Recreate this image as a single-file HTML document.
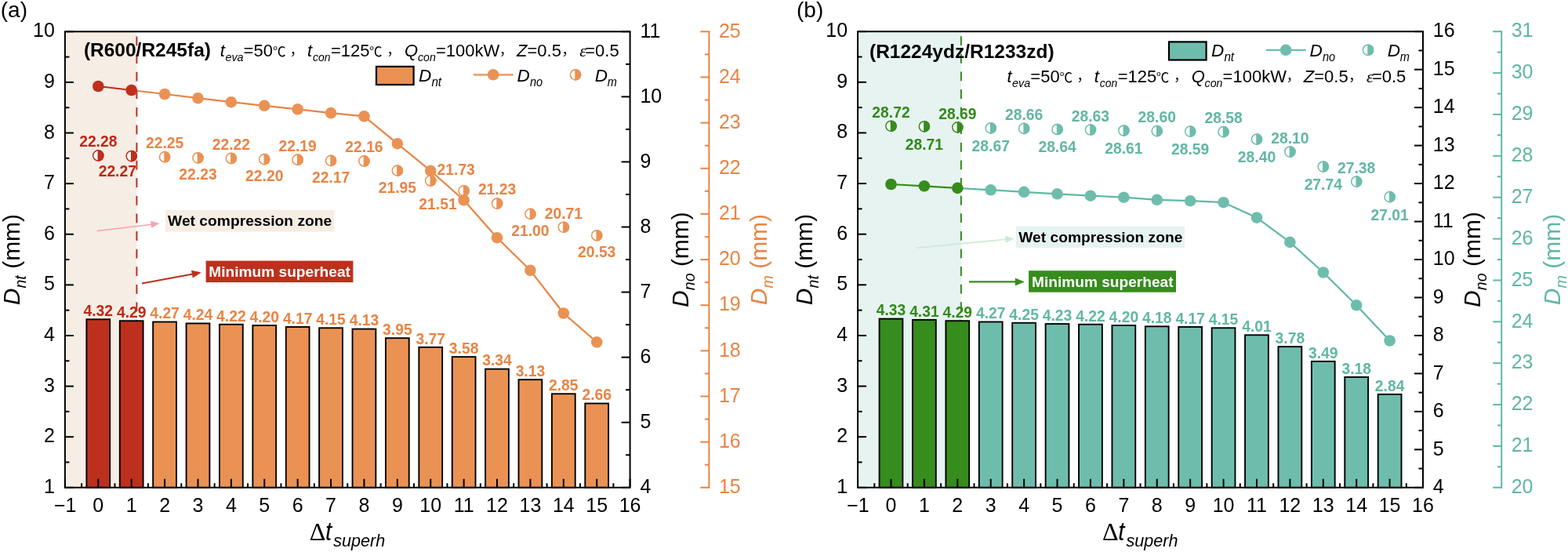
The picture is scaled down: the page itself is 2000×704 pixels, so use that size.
<!DOCTYPE html><html><head><meta charset="utf-8"><style>html,body{margin:0;padding:0;background:#fff;}svg{display:block;}</style></head><body>
<svg width="2000" height="704" viewBox="0 0 2000 704" font-family='"Liberation Sans", "Noto Sans CJK SC", sans-serif'>
<rect width="2000" height="704" fill="#fff"/>
<rect x="82.9" y="40.3" width="91.5" height="581.5" fill="#F6EDE4"/>
<line x1="174.4" y1="46.5" x2="174.4" y2="621.8" stroke="#BD301D" stroke-width="2" stroke-dasharray="11.8 10.8"/>
<rect x="110.39" y="407.29" width="29.8" height="214.51" fill="#BD301D" stroke="#000" stroke-width="1.9"/>
<rect x="152.79" y="409.23" width="29.8" height="212.57" fill="#BD301D" stroke="#000" stroke-width="1.9"/>
<rect x="195.18" y="410.52" width="29.8" height="211.28" fill="#EA9254" stroke="#000" stroke-width="1.9"/>
<rect x="237.58" y="412.46" width="29.8" height="209.34" fill="#EA9254" stroke="#000" stroke-width="1.9"/>
<rect x="279.97" y="413.75" width="29.8" height="208.05" fill="#EA9254" stroke="#000" stroke-width="1.9"/>
<rect x="322.36" y="415.04" width="29.8" height="206.76" fill="#EA9254" stroke="#000" stroke-width="1.9"/>
<rect x="364.76" y="416.98" width="29.8" height="204.82" fill="#EA9254" stroke="#000" stroke-width="1.9"/>
<rect x="407.15" y="418.27" width="29.8" height="203.52" fill="#EA9254" stroke="#000" stroke-width="1.9"/>
<rect x="449.55" y="419.57" width="29.8" height="202.23" fill="#EA9254" stroke="#000" stroke-width="1.9"/>
<rect x="491.94" y="431.2" width="29.8" height="190.6" fill="#EA9254" stroke="#000" stroke-width="1.9"/>
<rect x="534.34" y="442.83" width="29.8" height="178.97" fill="#EA9254" stroke="#000" stroke-width="1.9"/>
<rect x="576.73" y="455.1" width="29.8" height="166.7" fill="#EA9254" stroke="#000" stroke-width="1.9"/>
<rect x="619.12" y="470.61" width="29.8" height="151.19" fill="#EA9254" stroke="#000" stroke-width="1.9"/>
<rect x="661.52" y="484.18" width="29.8" height="137.62" fill="#EA9254" stroke="#000" stroke-width="1.9"/>
<rect x="703.91" y="502.27" width="29.8" height="119.53" fill="#EA9254" stroke="#000" stroke-width="1.9"/>
<rect x="746.31" y="514.55" width="29.8" height="107.25" fill="#EA9254" stroke="#000" stroke-width="1.9"/>
<text transform="translate(125.29 403.09) scale(0.99 1)" font-size="19.5" fill="#BE2816" text-anchor="middle" font-weight="bold">4.32</text>
<text transform="translate(167.69 405.03) scale(0.99 1)" font-size="19.5" fill="#BE2816" text-anchor="middle" font-weight="bold">4.29</text>
<text transform="translate(210.08 406.32) scale(0.99 1)" font-size="19.5" fill="#E98444" text-anchor="middle" font-weight="bold">4.27</text>
<text transform="translate(252.48 408.26) scale(0.99 1)" font-size="19.5" fill="#E98444" text-anchor="middle" font-weight="bold">4.24</text>
<text transform="translate(294.87 409.55) scale(0.99 1)" font-size="19.5" fill="#E98444" text-anchor="middle" font-weight="bold">4.22</text>
<text transform="translate(337.26 410.84) scale(0.99 1)" font-size="19.5" fill="#E98444" text-anchor="middle" font-weight="bold">4.20</text>
<text transform="translate(379.66 412.78) scale(0.99 1)" font-size="19.5" fill="#E98444" text-anchor="middle" font-weight="bold">4.17</text>
<text transform="translate(422.05 414.07) scale(0.99 1)" font-size="19.5" fill="#E98444" text-anchor="middle" font-weight="bold">4.15</text>
<text transform="translate(464.45 415.37) scale(0.99 1)" font-size="19.5" fill="#E98444" text-anchor="middle" font-weight="bold">4.13</text>
<text transform="translate(506.84 427) scale(0.99 1)" font-size="19.5" fill="#E98444" text-anchor="middle" font-weight="bold">3.95</text>
<text transform="translate(549.24 438.63) scale(0.99 1)" font-size="19.5" fill="#E98444" text-anchor="middle" font-weight="bold">3.77</text>
<text transform="translate(591.63 450.9) scale(0.99 1)" font-size="19.5" fill="#E98444" text-anchor="middle" font-weight="bold">3.58</text>
<text transform="translate(634.02 466.41) scale(0.99 1)" font-size="19.5" fill="#E98444" text-anchor="middle" font-weight="bold">3.34</text>
<text transform="translate(676.42 479.98) scale(0.99 1)" font-size="19.5" fill="#E98444" text-anchor="middle" font-weight="bold">3.13</text>
<text transform="translate(718.81 498.07) scale(0.99 1)" font-size="19.5" fill="#E98444" text-anchor="middle" font-weight="bold">2.85</text>
<text transform="translate(761.21 510.35) scale(0.99 1)" font-size="19.5" fill="#E98444" text-anchor="middle" font-weight="bold">2.66</text>
<rect x="211.2" y="267.9" width="215.2" height="27.6" fill="#F6EDE4"/>
<text x="214.1" y="288.4" font-size="18.8" fill="#000" font-weight="bold" textLength="209.2" lengthAdjust="spacingAndGlyphs">Wet compression zone</text>
<rect x="262.6" y="332.6" width="187.8" height="27.5" fill="#BD301D"/>
<text x="266.3" y="352.8" font-size="18.8" fill="#fff" font-weight="bold" textLength="180.6" lengthAdjust="spacingAndGlyphs">Minimum superheat</text>
<line x1="123.7" y1="294.5" x2="193.67" y2="286.18" stroke="#F2A5AE" stroke-width="1.6"/>
<path d="M203.6 285 L193.21 290.77 L192.15 281.83 Z" fill="#F2A5AE"/>
<line x1="180.9" y1="361.5" x2="245.88" y2="349.5" stroke="#BD301D" stroke-width="2.2"/>
<path d="M256.7 347.5 L245.81 354.6 L243.99 344.76 Z" fill="#BD301D"/>
<circle cx="125.29" cy="198.47" r="6.6" fill="#fff" stroke="#BD301D" stroke-width="1.5"/>
<path d="M125.29 191.87 A6.6 6.6 0 0 1 125.29 205.07 Z" fill="#BD301D" stroke="#BD301D" stroke-width="1.5"/>
<circle cx="167.69" cy="199.05" r="6.6" fill="#fff" stroke="#BD301D" stroke-width="1.5"/>
<path d="M167.69 192.45 A6.6 6.6 0 0 1 167.69 205.65 Z" fill="#BD301D" stroke="#BD301D" stroke-width="1.5"/>
<circle cx="210.08" cy="200.21" r="6.6" fill="#fff" stroke="#EA9254" stroke-width="1.5"/>
<path d="M210.08 193.61 A6.6 6.6 0 0 1 210.08 206.81 Z" fill="#EA9254" stroke="#EA9254" stroke-width="1.5"/>
<circle cx="252.48" cy="201.38" r="6.6" fill="#fff" stroke="#EA9254" stroke-width="1.5"/>
<path d="M252.48 194.78 A6.6 6.6 0 0 1 252.48 207.98 Z" fill="#EA9254" stroke="#EA9254" stroke-width="1.5"/>
<circle cx="294.87" cy="201.96" r="6.6" fill="#fff" stroke="#EA9254" stroke-width="1.5"/>
<path d="M294.87 195.36 A6.6 6.6 0 0 1 294.87 208.56 Z" fill="#EA9254" stroke="#EA9254" stroke-width="1.5"/>
<circle cx="337.26" cy="203.12" r="6.6" fill="#fff" stroke="#EA9254" stroke-width="1.5"/>
<path d="M337.26 196.52 A6.6 6.6 0 0 1 337.26 209.72 Z" fill="#EA9254" stroke="#EA9254" stroke-width="1.5"/>
<circle cx="379.66" cy="203.7" r="6.6" fill="#fff" stroke="#EA9254" stroke-width="1.5"/>
<path d="M379.66 197.1 A6.6 6.6 0 0 1 379.66 210.3 Z" fill="#EA9254" stroke="#EA9254" stroke-width="1.5"/>
<circle cx="422.05" cy="204.86" r="6.6" fill="#fff" stroke="#EA9254" stroke-width="1.5"/>
<path d="M422.05 198.26 A6.6 6.6 0 0 1 422.05 211.46 Z" fill="#EA9254" stroke="#EA9254" stroke-width="1.5"/>
<circle cx="464.45" cy="205.45" r="6.6" fill="#fff" stroke="#EA9254" stroke-width="1.5"/>
<path d="M464.45 198.85 A6.6 6.6 0 0 1 464.45 212.05 Z" fill="#EA9254" stroke="#EA9254" stroke-width="1.5"/>
<circle cx="506.84" cy="217.66" r="6.6" fill="#fff" stroke="#EA9254" stroke-width="1.5"/>
<path d="M506.84 211.06 A6.6 6.6 0 0 1 506.84 224.26 Z" fill="#EA9254" stroke="#EA9254" stroke-width="1.5"/>
<circle cx="549.24" cy="230.45" r="6.6" fill="#fff" stroke="#EA9254" stroke-width="1.5"/>
<path d="M549.24 223.85 A6.6 6.6 0 0 1 549.24 237.05 Z" fill="#EA9254" stroke="#EA9254" stroke-width="1.5"/>
<circle cx="591.63" cy="243.24" r="6.6" fill="#fff" stroke="#EA9254" stroke-width="1.5"/>
<path d="M591.63 236.64 A6.6 6.6 0 0 1 591.63 249.84 Z" fill="#EA9254" stroke="#EA9254" stroke-width="1.5"/>
<circle cx="634.02" cy="259.53" r="6.6" fill="#fff" stroke="#EA9254" stroke-width="1.5"/>
<path d="M634.02 252.93 A6.6 6.6 0 0 1 634.02 266.13 Z" fill="#EA9254" stroke="#EA9254" stroke-width="1.5"/>
<circle cx="676.42" cy="272.9" r="6.6" fill="#fff" stroke="#EA9254" stroke-width="1.5"/>
<path d="M676.42 266.3 A6.6 6.6 0 0 1 676.42 279.5 Z" fill="#EA9254" stroke="#EA9254" stroke-width="1.5"/>
<circle cx="718.81" cy="289.76" r="6.6" fill="#fff" stroke="#EA9254" stroke-width="1.5"/>
<path d="M718.81 283.16 A6.6 6.6 0 0 1 718.81 296.36 Z" fill="#EA9254" stroke="#EA9254" stroke-width="1.5"/>
<circle cx="761.21" cy="300.23" r="6.6" fill="#fff" stroke="#EA9254" stroke-width="1.5"/>
<path d="M761.21 293.63 A6.6 6.6 0 0 1 761.21 306.83 Z" fill="#EA9254" stroke="#EA9254" stroke-width="1.5"/>
<line x1="125.29" y1="110" x2="167.69" y2="115" stroke="#BD301D" stroke-width="2.2"/>
<line x1="167.69" y1="115" x2="210.08" y2="120" stroke="#E98444" stroke-width="2.2"/>
<line x1="210.08" y1="120" x2="252.48" y2="125.2" stroke="#E98444" stroke-width="2.2"/>
<line x1="252.48" y1="125.2" x2="294.87" y2="130.2" stroke="#E98444" stroke-width="2.2"/>
<line x1="294.87" y1="130.2" x2="337.26" y2="134.8" stroke="#E98444" stroke-width="2.2"/>
<line x1="337.26" y1="134.8" x2="379.66" y2="139.3" stroke="#E98444" stroke-width="2.2"/>
<line x1="379.66" y1="139.3" x2="422.05" y2="144.1" stroke="#E98444" stroke-width="2.2"/>
<line x1="422.05" y1="144.1" x2="464.45" y2="148.4" stroke="#E98444" stroke-width="2.2"/>
<line x1="464.45" y1="148.4" x2="506.84" y2="183.2" stroke="#E98444" stroke-width="2.2"/>
<line x1="506.84" y1="183.2" x2="549.24" y2="217.8" stroke="#E98444" stroke-width="2.2"/>
<line x1="549.24" y1="217.8" x2="591.63" y2="255.3" stroke="#E98444" stroke-width="2.2"/>
<line x1="591.63" y1="255.3" x2="634.02" y2="303.2" stroke="#E98444" stroke-width="2.2"/>
<line x1="634.02" y1="303.2" x2="676.42" y2="344.8" stroke="#E98444" stroke-width="2.2"/>
<line x1="676.42" y1="344.8" x2="718.81" y2="399.5" stroke="#E98444" stroke-width="2.2"/>
<line x1="718.81" y1="399.5" x2="761.21" y2="436.3" stroke="#E98444" stroke-width="2.2"/>
<circle cx="125.29" cy="110" r="7.3" fill="#BD301D"/>
<circle cx="167.69" cy="115" r="7.3" fill="#BD301D"/>
<circle cx="210.08" cy="120" r="7.3" fill="#EA9254"/>
<circle cx="252.48" cy="125.2" r="7.3" fill="#EA9254"/>
<circle cx="294.87" cy="130.2" r="7.3" fill="#EA9254"/>
<circle cx="337.26" cy="134.8" r="7.3" fill="#EA9254"/>
<circle cx="379.66" cy="139.3" r="7.3" fill="#EA9254"/>
<circle cx="422.05" cy="144.1" r="7.3" fill="#EA9254"/>
<circle cx="464.45" cy="148.4" r="7.3" fill="#EA9254"/>
<circle cx="506.84" cy="183.2" r="7.3" fill="#EA9254"/>
<circle cx="549.24" cy="217.8" r="7.3" fill="#EA9254"/>
<circle cx="591.63" cy="255.3" r="7.3" fill="#EA9254"/>
<circle cx="634.02" cy="303.2" r="7.3" fill="#EA9254"/>
<circle cx="676.42" cy="344.8" r="7.3" fill="#EA9254"/>
<circle cx="718.81" cy="399.5" r="7.3" fill="#EA9254"/>
<circle cx="761.21" cy="436.3" r="7.3" fill="#EA9254"/>
<text transform="translate(125.29 187.27) scale(0.99 1)" font-size="19.5" fill="#BE2816" text-anchor="middle" font-weight="bold">22.28</text>
<text transform="translate(149.8 225.1) scale(0.99 1)" font-size="19.5" fill="#BE2816" text-anchor="middle" font-weight="bold">22.27</text>
<text transform="translate(210.08 189.01) scale(0.99 1)" font-size="19.5" fill="#E98444" text-anchor="middle" font-weight="bold">22.25</text>
<text transform="translate(252.48 229.38) scale(0.99 1)" font-size="19.5" fill="#E98444" text-anchor="middle" font-weight="bold">22.23</text>
<text transform="translate(294.87 190.76) scale(0.99 1)" font-size="19.5" fill="#E98444" text-anchor="middle" font-weight="bold">22.22</text>
<text transform="translate(337.26 231.12) scale(0.99 1)" font-size="19.5" fill="#E98444" text-anchor="middle" font-weight="bold">22.20</text>
<text transform="translate(379.66 192.5) scale(0.99 1)" font-size="19.5" fill="#E98444" text-anchor="middle" font-weight="bold">22.19</text>
<text transform="translate(422.05 232.86) scale(0.99 1)" font-size="19.5" fill="#E98444" text-anchor="middle" font-weight="bold">22.17</text>
<text transform="translate(464.45 194.25) scale(0.99 1)" font-size="19.5" fill="#E98444" text-anchor="middle" font-weight="bold">22.16</text>
<text transform="translate(506.84 245.66) scale(0.99 1)" font-size="19.5" fill="#E98444" text-anchor="middle" font-weight="bold">21.95</text>
<text transform="translate(581.7 222.6) scale(0.99 1)" font-size="19.5" fill="#E98444" text-anchor="middle" font-weight="bold">21.73</text>
<text transform="translate(558.5 266.7) scale(0.99 1)" font-size="19.5" fill="#E98444" text-anchor="middle" font-weight="bold">21.51</text>
<text transform="translate(634.02 248.33) scale(0.99 1)" font-size="19.5" fill="#E98444" text-anchor="middle" font-weight="bold">21.23</text>
<text transform="translate(676.42 300.9) scale(0.99 1)" font-size="19.5" fill="#E98444" text-anchor="middle" font-weight="bold">21.00</text>
<text transform="translate(718.81 278.56) scale(0.99 1)" font-size="19.5" fill="#E98444" text-anchor="middle" font-weight="bold">20.71</text>
<text transform="translate(761.21 328.23) scale(0.99 1)" font-size="19.5" fill="#E98444" text-anchor="middle" font-weight="bold">20.53</text>
<rect x="82.9" y="40.3" width="720.7" height="581.5" fill="none" stroke="#000" stroke-width="2"/>
<line x1="82.9" y1="621.8" x2="82.9" y2="610.8" stroke="#000" stroke-width="2"/>
<line x1="104.1" y1="621.8" x2="104.1" y2="616.3" stroke="#000" stroke-width="2"/>
<text x="83.2" y="653.4" font-size="25" fill="#000" text-anchor="middle">&#8722;1</text>
<line x1="125.29" y1="621.8" x2="125.29" y2="610.8" stroke="#000" stroke-width="2"/>
<line x1="146.49" y1="621.8" x2="146.49" y2="616.3" stroke="#000" stroke-width="2"/>
<text x="125.29" y="653.4" font-size="25" fill="#000" text-anchor="middle">0</text>
<line x1="167.69" y1="621.8" x2="167.69" y2="610.8" stroke="#000" stroke-width="2"/>
<line x1="188.89" y1="621.8" x2="188.89" y2="616.3" stroke="#000" stroke-width="2"/>
<text x="167.69" y="653.4" font-size="25" fill="#000" text-anchor="middle">1</text>
<line x1="210.08" y1="621.8" x2="210.08" y2="610.8" stroke="#000" stroke-width="2"/>
<line x1="231.28" y1="621.8" x2="231.28" y2="616.3" stroke="#000" stroke-width="2"/>
<text x="210.08" y="653.4" font-size="25" fill="#000" text-anchor="middle">2</text>
<line x1="252.48" y1="621.8" x2="252.48" y2="610.8" stroke="#000" stroke-width="2"/>
<line x1="273.67" y1="621.8" x2="273.67" y2="616.3" stroke="#000" stroke-width="2"/>
<text x="252.48" y="653.4" font-size="25" fill="#000" text-anchor="middle">3</text>
<line x1="294.87" y1="621.8" x2="294.87" y2="610.8" stroke="#000" stroke-width="2"/>
<line x1="316.07" y1="621.8" x2="316.07" y2="616.3" stroke="#000" stroke-width="2"/>
<text x="294.87" y="653.4" font-size="25" fill="#000" text-anchor="middle">4</text>
<line x1="337.26" y1="621.8" x2="337.26" y2="610.8" stroke="#000" stroke-width="2"/>
<line x1="358.46" y1="621.8" x2="358.46" y2="616.3" stroke="#000" stroke-width="2"/>
<text x="337.26" y="653.4" font-size="25" fill="#000" text-anchor="middle">5</text>
<line x1="379.66" y1="621.8" x2="379.66" y2="610.8" stroke="#000" stroke-width="2"/>
<line x1="400.86" y1="621.8" x2="400.86" y2="616.3" stroke="#000" stroke-width="2"/>
<text x="379.66" y="653.4" font-size="25" fill="#000" text-anchor="middle">6</text>
<line x1="422.05" y1="621.8" x2="422.05" y2="610.8" stroke="#000" stroke-width="2"/>
<line x1="443.25" y1="621.8" x2="443.25" y2="616.3" stroke="#000" stroke-width="2"/>
<text x="422.05" y="653.4" font-size="25" fill="#000" text-anchor="middle">7</text>
<line x1="464.45" y1="621.8" x2="464.45" y2="610.8" stroke="#000" stroke-width="2"/>
<line x1="485.64" y1="621.8" x2="485.64" y2="616.3" stroke="#000" stroke-width="2"/>
<text x="464.45" y="653.4" font-size="25" fill="#000" text-anchor="middle">8</text>
<line x1="506.84" y1="621.8" x2="506.84" y2="610.8" stroke="#000" stroke-width="2"/>
<line x1="528.04" y1="621.8" x2="528.04" y2="616.3" stroke="#000" stroke-width="2"/>
<text x="506.84" y="653.4" font-size="25" fill="#000" text-anchor="middle">9</text>
<line x1="549.24" y1="621.8" x2="549.24" y2="610.8" stroke="#000" stroke-width="2"/>
<line x1="570.43" y1="621.8" x2="570.43" y2="616.3" stroke="#000" stroke-width="2"/>
<text x="549.24" y="653.4" font-size="25" fill="#000" text-anchor="middle">10</text>
<line x1="591.63" y1="621.8" x2="591.63" y2="610.8" stroke="#000" stroke-width="2"/>
<line x1="612.83" y1="621.8" x2="612.83" y2="616.3" stroke="#000" stroke-width="2"/>
<text x="591.63" y="653.4" font-size="25" fill="#000" text-anchor="middle">11</text>
<line x1="634.02" y1="621.8" x2="634.02" y2="610.8" stroke="#000" stroke-width="2"/>
<line x1="655.22" y1="621.8" x2="655.22" y2="616.3" stroke="#000" stroke-width="2"/>
<text x="634.02" y="653.4" font-size="25" fill="#000" text-anchor="middle">12</text>
<line x1="676.42" y1="621.8" x2="676.42" y2="610.8" stroke="#000" stroke-width="2"/>
<line x1="697.61" y1="621.8" x2="697.61" y2="616.3" stroke="#000" stroke-width="2"/>
<text x="676.42" y="653.4" font-size="25" fill="#000" text-anchor="middle">13</text>
<line x1="718.81" y1="621.8" x2="718.81" y2="610.8" stroke="#000" stroke-width="2"/>
<line x1="740.01" y1="621.8" x2="740.01" y2="616.3" stroke="#000" stroke-width="2"/>
<text x="718.81" y="653.4" font-size="25" fill="#000" text-anchor="middle">14</text>
<line x1="761.21" y1="621.8" x2="761.21" y2="610.8" stroke="#000" stroke-width="2"/>
<line x1="782.4" y1="621.8" x2="782.4" y2="616.3" stroke="#000" stroke-width="2"/>
<text x="761.21" y="653.4" font-size="25" fill="#000" text-anchor="middle">15</text>
<line x1="803.6" y1="621.8" x2="803.6" y2="610.8" stroke="#000" stroke-width="2"/>
<text x="803.6" y="653.4" font-size="25" fill="#000" text-anchor="middle">16</text>
<line x1="82.9" y1="621.8" x2="93.9" y2="621.8" stroke="#000" stroke-width="2"/>
<line x1="82.9" y1="589.49" x2="88.4" y2="589.49" stroke="#000" stroke-width="2"/>
<text x="69.9" y="628.8" font-size="25" fill="#000" text-anchor="end">1</text>
<line x1="82.9" y1="557.19" x2="93.9" y2="557.19" stroke="#000" stroke-width="2"/>
<line x1="82.9" y1="524.88" x2="88.4" y2="524.88" stroke="#000" stroke-width="2"/>
<text x="69.9" y="564.19" font-size="25" fill="#000" text-anchor="end">2</text>
<line x1="82.9" y1="492.58" x2="93.9" y2="492.58" stroke="#000" stroke-width="2"/>
<line x1="82.9" y1="460.27" x2="88.4" y2="460.27" stroke="#000" stroke-width="2"/>
<text x="69.9" y="499.58" font-size="25" fill="#000" text-anchor="end">3</text>
<line x1="82.9" y1="427.97" x2="93.9" y2="427.97" stroke="#000" stroke-width="2"/>
<line x1="82.9" y1="395.66" x2="88.4" y2="395.66" stroke="#000" stroke-width="2"/>
<text x="69.9" y="434.97" font-size="25" fill="#000" text-anchor="end">4</text>
<line x1="82.9" y1="363.36" x2="93.9" y2="363.36" stroke="#000" stroke-width="2"/>
<line x1="82.9" y1="331.05" x2="88.4" y2="331.05" stroke="#000" stroke-width="2"/>
<text x="69.9" y="370.36" font-size="25" fill="#000" text-anchor="end">5</text>
<line x1="82.9" y1="298.74" x2="93.9" y2="298.74" stroke="#000" stroke-width="2"/>
<line x1="82.9" y1="266.44" x2="88.4" y2="266.44" stroke="#000" stroke-width="2"/>
<text x="69.9" y="305.74" font-size="25" fill="#000" text-anchor="end">6</text>
<line x1="82.9" y1="234.13" x2="93.9" y2="234.13" stroke="#000" stroke-width="2"/>
<line x1="82.9" y1="201.83" x2="88.4" y2="201.83" stroke="#000" stroke-width="2"/>
<text x="69.9" y="241.13" font-size="25" fill="#000" text-anchor="end">7</text>
<line x1="82.9" y1="169.52" x2="93.9" y2="169.52" stroke="#000" stroke-width="2"/>
<line x1="82.9" y1="137.22" x2="88.4" y2="137.22" stroke="#000" stroke-width="2"/>
<text x="69.9" y="176.52" font-size="25" fill="#000" text-anchor="end">8</text>
<line x1="82.9" y1="104.91" x2="93.9" y2="104.91" stroke="#000" stroke-width="2"/>
<line x1="82.9" y1="72.61" x2="88.4" y2="72.61" stroke="#000" stroke-width="2"/>
<text x="69.9" y="111.91" font-size="25" fill="#000" text-anchor="end">9</text>
<line x1="82.9" y1="40.3" x2="93.9" y2="40.3" stroke="#000" stroke-width="2"/>
<text x="69.9" y="47.3" font-size="25" fill="#000" text-anchor="end">10</text>
<line x1="803.6" y1="621.8" x2="792.6" y2="621.8" stroke="#000" stroke-width="2"/>
<line x1="803.6" y1="580.26" x2="798.1" y2="580.26" stroke="#000" stroke-width="2"/>
<text x="816.4" y="629" font-size="25" fill="#000">4</text>
<line x1="803.6" y1="538.73" x2="792.6" y2="538.73" stroke="#000" stroke-width="2"/>
<line x1="803.6" y1="497.19" x2="798.1" y2="497.19" stroke="#000" stroke-width="2"/>
<text x="816.4" y="545.93" font-size="25" fill="#000">5</text>
<line x1="803.6" y1="455.66" x2="792.6" y2="455.66" stroke="#000" stroke-width="2"/>
<line x1="803.6" y1="414.12" x2="798.1" y2="414.12" stroke="#000" stroke-width="2"/>
<text x="816.4" y="462.86" font-size="25" fill="#000">6</text>
<line x1="803.6" y1="372.59" x2="792.6" y2="372.59" stroke="#000" stroke-width="2"/>
<line x1="803.6" y1="331.05" x2="798.1" y2="331.05" stroke="#000" stroke-width="2"/>
<text x="816.4" y="379.79" font-size="25" fill="#000">7</text>
<line x1="803.6" y1="289.51" x2="792.6" y2="289.51" stroke="#000" stroke-width="2"/>
<line x1="803.6" y1="247.98" x2="798.1" y2="247.98" stroke="#000" stroke-width="2"/>
<text x="816.4" y="296.71" font-size="25" fill="#000">8</text>
<line x1="803.6" y1="206.44" x2="792.6" y2="206.44" stroke="#000" stroke-width="2"/>
<line x1="803.6" y1="164.91" x2="798.1" y2="164.91" stroke="#000" stroke-width="2"/>
<text x="816.4" y="213.64" font-size="25" fill="#000">9</text>
<line x1="803.6" y1="123.37" x2="792.6" y2="123.37" stroke="#000" stroke-width="2"/>
<line x1="803.6" y1="81.84" x2="798.1" y2="81.84" stroke="#000" stroke-width="2"/>
<text x="816.4" y="130.57" font-size="25" fill="#000">10</text>
<line x1="803.6" y1="40.3" x2="792.6" y2="40.3" stroke="#000" stroke-width="2"/>
<text x="816.4" y="47.5" font-size="25" fill="#000">11</text>
<line x1="904.4" y1="39.3" x2="904.4" y2="622.8" stroke="#E98444" stroke-width="2"/>
<line x1="904.4" y1="621.8" x2="893.4" y2="621.8" stroke="#E98444" stroke-width="2"/>
<line x1="904.4" y1="592.72" x2="898.9" y2="592.72" stroke="#E98444" stroke-width="2"/>
<text x="916.9" y="629" font-size="25" fill="#E98444">15</text>
<line x1="904.4" y1="563.65" x2="893.4" y2="563.65" stroke="#E98444" stroke-width="2"/>
<line x1="904.4" y1="534.57" x2="898.9" y2="534.57" stroke="#E98444" stroke-width="2"/>
<text x="916.9" y="570.85" font-size="25" fill="#E98444">16</text>
<line x1="904.4" y1="505.5" x2="893.4" y2="505.5" stroke="#E98444" stroke-width="2"/>
<line x1="904.4" y1="476.42" x2="898.9" y2="476.42" stroke="#E98444" stroke-width="2"/>
<text x="916.9" y="512.7" font-size="25" fill="#E98444">17</text>
<line x1="904.4" y1="447.35" x2="893.4" y2="447.35" stroke="#E98444" stroke-width="2"/>
<line x1="904.4" y1="418.27" x2="898.9" y2="418.27" stroke="#E98444" stroke-width="2"/>
<text x="916.9" y="454.55" font-size="25" fill="#E98444">18</text>
<line x1="904.4" y1="389.2" x2="893.4" y2="389.2" stroke="#E98444" stroke-width="2"/>
<line x1="904.4" y1="360.12" x2="898.9" y2="360.12" stroke="#E98444" stroke-width="2"/>
<text x="916.9" y="396.4" font-size="25" fill="#E98444">19</text>
<line x1="904.4" y1="331.05" x2="893.4" y2="331.05" stroke="#E98444" stroke-width="2"/>
<line x1="904.4" y1="301.97" x2="898.9" y2="301.97" stroke="#E98444" stroke-width="2"/>
<text x="916.9" y="338.25" font-size="25" fill="#E98444">20</text>
<line x1="904.4" y1="272.9" x2="893.4" y2="272.9" stroke="#E98444" stroke-width="2"/>
<line x1="904.4" y1="243.82" x2="898.9" y2="243.82" stroke="#E98444" stroke-width="2"/>
<text x="916.9" y="280.1" font-size="25" fill="#E98444">21</text>
<line x1="904.4" y1="214.75" x2="893.4" y2="214.75" stroke="#E98444" stroke-width="2"/>
<line x1="904.4" y1="185.67" x2="898.9" y2="185.67" stroke="#E98444" stroke-width="2"/>
<text x="916.9" y="221.95" font-size="25" fill="#E98444">22</text>
<line x1="904.4" y1="156.6" x2="893.4" y2="156.6" stroke="#E98444" stroke-width="2"/>
<line x1="904.4" y1="127.52" x2="898.9" y2="127.52" stroke="#E98444" stroke-width="2"/>
<text x="916.9" y="163.8" font-size="25" fill="#E98444">23</text>
<line x1="904.4" y1="98.45" x2="893.4" y2="98.45" stroke="#E98444" stroke-width="2"/>
<line x1="904.4" y1="69.37" x2="898.9" y2="69.37" stroke="#E98444" stroke-width="2"/>
<text x="916.9" y="105.65" font-size="25" fill="#E98444">24</text>
<line x1="904.4" y1="40.3" x2="893.4" y2="40.3" stroke="#E98444" stroke-width="2"/>
<text x="916.9" y="47.5" font-size="25" fill="#E98444">25</text>
<text transform="translate(24.9,331.05) rotate(-90)" text-anchor="middle" font-size="30" fill="#000"><tspan font-style="italic">D</tspan><tspan font-style="italic" font-size="19.6" dy="8">nt</tspan><tspan dy="-8"> (mm)</tspan></text>
<text transform="translate(877.7,331.05) rotate(-90)" text-anchor="middle" font-size="30" fill="#000"><tspan font-style="italic">D</tspan><tspan font-style="italic" font-size="19.6" dy="8">no</tspan><tspan dy="-8"> (mm)</tspan></text>
<text transform="translate(978.3,331.05) rotate(-90)" text-anchor="middle" font-size="30" fill="#E98444"><tspan font-style="italic">D</tspan><tspan font-style="italic" font-size="19.6" dy="8">m</tspan><tspan dy="-8"> (mm)</tspan></text>
<text x="394.8" y="688.6" font-size="32" font-family="Liberation Serif">&#916;</text>
<text transform="translate(415.05 688.6) scale(0.87 1)" font-size="34" font-style="italic">t</text>
<text x="425.2" y="696.9" font-size="21.6" font-style="italic">superh</text>
<rect x="480" y="84.9" width="47.6" height="23.1" fill="#EA9254" stroke="#000" stroke-width="2.2"/>
<line x1="603.9" y1="95.3" x2="654.6" y2="95.3" stroke="#EA9254" stroke-width="2.2"/>
<circle cx="629.1" cy="95.3" r="7.3" fill="#EA9254"/>
<circle cx="734" cy="95.3" r="6.6" fill="#fff" stroke="#EA9254" stroke-width="1.5"/>
<path d="M734 88.7 A6.6 6.6 0 0 1 734 101.9 Z" fill="#EA9254" stroke="#EA9254" stroke-width="1.5"/>
<text x="534" y="103.6" font-size="22.5" font-style="italic">D</text>
<text x="550.4" y="109.8" font-size="16" font-style="italic" textLength="12.7" lengthAdjust="spacingAndGlyphs">nt</text>
<text x="659.5" y="103.6" font-size="22.5" font-style="italic">D</text>
<text x="676" y="109.8" font-size="16" font-style="italic" textLength="16.2" lengthAdjust="spacingAndGlyphs">no</text>
<text x="758.7" y="103.6" font-size="22.5" font-style="italic">D</text>
<text x="774.7" y="109.8" font-size="16" font-style="italic" textLength="12.1" lengthAdjust="spacingAndGlyphs">m</text>
<text x="106.9" y="71.8" font-size="24.5" fill="#000" font-weight="bold">(R600/R245fa)</text>
<text x="280.8" y="71.5" font-size="22" font-style="italic">t</text>
<text x="287.4" y="77.8" font-size="15.5" font-style="italic" textLength="23.2" lengthAdjust="spacingAndGlyphs">eva</text>
<text x="310.6" y="71.5" font-size="22">=50</text>
<text x="347.9" y="71.5" font-size="16.5">℃</text>
<text x="369.8" y="70.2" font-size="17">，</text>
<text x="392" y="71.5" font-size="22" font-style="italic">t</text>
<text x="399" y="77.8" font-size="15.5" font-style="italic" textLength="22.5" lengthAdjust="spacingAndGlyphs">con</text>
<text x="422" y="71.5" font-size="22">=125</text>
<text x="471" y="71.5" font-size="16.5">℃</text>
<text x="493.5" y="70.2" font-size="17">，</text>
<text x="516.1" y="71.5" font-size="22" font-style="italic">Q</text>
<text x="532.9" y="77.8" font-size="15.5" font-style="italic" textLength="22.9" lengthAdjust="spacingAndGlyphs">con</text>
<text x="555.9" y="71.5" font-size="22">=100kW</text>
<text x="637.1" y="70.2" font-size="17">，</text>
<text x="659" y="71.5" font-size="22" font-style="italic">Z</text>
<text x="672.5" y="71.5" font-size="22">=0.5</text>
<text x="716.5" y="70.2" font-size="17">，</text>
<text x="739.2" y="71.5" font-size="22" font-style="italic" font-family="Liberation Serif">&#949;</text>
<text x="746.2" y="71.5" font-size="22">=0.5</text>
<text x="0.8" y="21.8" font-size="28" fill="#000">(a)</text>
<rect x="1094.1" y="40.2" width="131.8" height="581.6" fill="#E7F3F1"/>
<line x1="1225.9" y1="46.3" x2="1225.9" y2="621.8" stroke="#368C1C" stroke-width="2" stroke-dasharray="11.8 10.8"/>
<rect x="1121.61" y="406.61" width="29.8" height="215.19" fill="#368C1C" stroke="#000" stroke-width="1.9"/>
<rect x="1164.01" y="407.9" width="29.8" height="213.9" fill="#368C1C" stroke="#000" stroke-width="1.9"/>
<rect x="1206.42" y="409.19" width="29.8" height="212.61" fill="#368C1C" stroke="#000" stroke-width="1.9"/>
<rect x="1248.82" y="410.49" width="29.8" height="211.31" fill="#6EBDAC" stroke="#000" stroke-width="1.9"/>
<rect x="1291.23" y="411.78" width="29.8" height="210.02" fill="#6EBDAC" stroke="#000" stroke-width="1.9"/>
<rect x="1333.64" y="413.07" width="29.8" height="208.73" fill="#6EBDAC" stroke="#000" stroke-width="1.9"/>
<rect x="1376.04" y="413.72" width="29.8" height="208.08" fill="#6EBDAC" stroke="#000" stroke-width="1.9"/>
<rect x="1418.45" y="415.01" width="29.8" height="206.79" fill="#6EBDAC" stroke="#000" stroke-width="1.9"/>
<rect x="1460.85" y="416.3" width="29.8" height="205.5" fill="#6EBDAC" stroke="#000" stroke-width="1.9"/>
<rect x="1503.26" y="416.95" width="29.8" height="204.85" fill="#6EBDAC" stroke="#000" stroke-width="1.9"/>
<rect x="1545.66" y="418.24" width="29.8" height="203.56" fill="#6EBDAC" stroke="#000" stroke-width="1.9"/>
<rect x="1588.07" y="427.29" width="29.8" height="194.51" fill="#6EBDAC" stroke="#000" stroke-width="1.9"/>
<rect x="1630.48" y="442.15" width="29.8" height="179.65" fill="#6EBDAC" stroke="#000" stroke-width="1.9"/>
<rect x="1672.88" y="460.89" width="29.8" height="160.91" fill="#6EBDAC" stroke="#000" stroke-width="1.9"/>
<rect x="1715.29" y="480.92" width="29.8" height="140.88" fill="#6EBDAC" stroke="#000" stroke-width="1.9"/>
<rect x="1757.69" y="502.9" width="29.8" height="118.9" fill="#6EBDAC" stroke="#000" stroke-width="1.9"/>
<text transform="translate(1136.51 402.41) scale(0.99 1)" font-size="19.5" fill="#318A19" text-anchor="middle" font-weight="bold">4.33</text>
<text transform="translate(1178.91 403.7) scale(0.99 1)" font-size="19.5" fill="#318A19" text-anchor="middle" font-weight="bold">4.31</text>
<text transform="translate(1221.32 404.99) scale(0.99 1)" font-size="19.5" fill="#318A19" text-anchor="middle" font-weight="bold">4.29</text>
<text transform="translate(1263.72 406.29) scale(0.99 1)" font-size="19.5" fill="#61B7A3" text-anchor="middle" font-weight="bold">4.27</text>
<text transform="translate(1306.13 407.58) scale(0.99 1)" font-size="19.5" fill="#61B7A3" text-anchor="middle" font-weight="bold">4.25</text>
<text transform="translate(1348.54 408.87) scale(0.99 1)" font-size="19.5" fill="#61B7A3" text-anchor="middle" font-weight="bold">4.23</text>
<text transform="translate(1390.94 409.52) scale(0.99 1)" font-size="19.5" fill="#61B7A3" text-anchor="middle" font-weight="bold">4.22</text>
<text transform="translate(1433.35 410.81) scale(0.99 1)" font-size="19.5" fill="#61B7A3" text-anchor="middle" font-weight="bold">4.20</text>
<text transform="translate(1475.75 412.1) scale(0.99 1)" font-size="19.5" fill="#61B7A3" text-anchor="middle" font-weight="bold">4.18</text>
<text transform="translate(1518.16 412.75) scale(0.99 1)" font-size="19.5" fill="#61B7A3" text-anchor="middle" font-weight="bold">4.17</text>
<text transform="translate(1560.56 414.04) scale(0.99 1)" font-size="19.5" fill="#61B7A3" text-anchor="middle" font-weight="bold">4.15</text>
<text transform="translate(1602.97 423.09) scale(0.99 1)" font-size="19.5" fill="#61B7A3" text-anchor="middle" font-weight="bold">4.01</text>
<text transform="translate(1645.38 437.95) scale(0.99 1)" font-size="19.5" fill="#61B7A3" text-anchor="middle" font-weight="bold">3.78</text>
<text transform="translate(1687.78 456.69) scale(0.99 1)" font-size="19.5" fill="#61B7A3" text-anchor="middle" font-weight="bold">3.49</text>
<text transform="translate(1730.19 476.72) scale(0.99 1)" font-size="19.5" fill="#61B7A3" text-anchor="middle" font-weight="bold">3.18</text>
<text transform="translate(1772.59 498.7) scale(0.99 1)" font-size="19.5" fill="#61B7A3" text-anchor="middle" font-weight="bold">2.84</text>
<rect x="1295.9" y="288.6" width="215.1" height="27.5" fill="#E7F3F1"/>
<text x="1299.2" y="308.9" font-size="18.8" fill="#000" font-weight="bold" textLength="209.2" lengthAdjust="spacingAndGlyphs">Wet compression zone</text>
<rect x="1312.1" y="345.2" width="187.9" height="27.5" fill="#368C1C"/>
<text x="1316" y="365.5" font-size="18.8" fill="#fff" font-weight="bold" textLength="180.6" lengthAdjust="spacingAndGlyphs">Minimum superheat</text>
<line x1="1169" y1="316.1" x2="1283.54" y2="305.24" stroke="#C8ECD6" stroke-width="1.6"/>
<path d="M1293.5 304.3 L1282.97 309.82 L1282.12 300.86 Z" fill="#C8ECD6"/>
<line x1="1236" y1="359.4" x2="1295.8" y2="359.4" stroke="#368C1C" stroke-width="2.2"/>
<path d="M1306.8 359.4 L1294.8 364.4 L1294.8 354.4 Z" fill="#368C1C"/>
<circle cx="1136.51" cy="160.75" r="6.6" fill="#fff" stroke="#368C1C" stroke-width="1.5"/>
<path d="M1136.51 154.15 A6.6 6.6 0 0 1 1136.51 167.35 Z" fill="#368C1C" stroke="#368C1C" stroke-width="1.5"/>
<circle cx="1178.91" cy="161.28" r="6.6" fill="#fff" stroke="#368C1C" stroke-width="1.5"/>
<path d="M1178.91 154.68 A6.6 6.6 0 0 1 1178.91 167.88 Z" fill="#368C1C" stroke="#368C1C" stroke-width="1.5"/>
<circle cx="1221.32" cy="162.34" r="6.6" fill="#fff" stroke="#368C1C" stroke-width="1.5"/>
<path d="M1221.32 155.74 A6.6 6.6 0 0 1 1221.32 168.94 Z" fill="#368C1C" stroke="#368C1C" stroke-width="1.5"/>
<circle cx="1263.72" cy="163.39" r="6.6" fill="#fff" stroke="#6EBDAC" stroke-width="1.5"/>
<path d="M1263.72 156.79 A6.6 6.6 0 0 1 1263.72 169.99 Z" fill="#6EBDAC" stroke="#6EBDAC" stroke-width="1.5"/>
<circle cx="1306.13" cy="163.92" r="6.6" fill="#fff" stroke="#6EBDAC" stroke-width="1.5"/>
<path d="M1306.13 157.32 A6.6 6.6 0 0 1 1306.13 170.52 Z" fill="#6EBDAC" stroke="#6EBDAC" stroke-width="1.5"/>
<circle cx="1348.54" cy="164.98" r="6.6" fill="#fff" stroke="#6EBDAC" stroke-width="1.5"/>
<path d="M1348.54 158.38 A6.6 6.6 0 0 1 1348.54 171.58 Z" fill="#6EBDAC" stroke="#6EBDAC" stroke-width="1.5"/>
<circle cx="1390.94" cy="165.51" r="6.6" fill="#fff" stroke="#6EBDAC" stroke-width="1.5"/>
<path d="M1390.94 158.91 A6.6 6.6 0 0 1 1390.94 172.11 Z" fill="#6EBDAC" stroke="#6EBDAC" stroke-width="1.5"/>
<circle cx="1433.35" cy="166.57" r="6.6" fill="#fff" stroke="#6EBDAC" stroke-width="1.5"/>
<path d="M1433.35 159.97 A6.6 6.6 0 0 1 1433.35 173.17 Z" fill="#6EBDAC" stroke="#6EBDAC" stroke-width="1.5"/>
<circle cx="1475.75" cy="167.09" r="6.6" fill="#fff" stroke="#6EBDAC" stroke-width="1.5"/>
<path d="M1475.75 160.49 A6.6 6.6 0 0 1 1475.75 173.69 Z" fill="#6EBDAC" stroke="#6EBDAC" stroke-width="1.5"/>
<circle cx="1518.16" cy="167.62" r="6.6" fill="#fff" stroke="#6EBDAC" stroke-width="1.5"/>
<path d="M1518.16 161.02 A6.6 6.6 0 0 1 1518.16 174.22 Z" fill="#6EBDAC" stroke="#6EBDAC" stroke-width="1.5"/>
<circle cx="1560.56" cy="168.15" r="6.6" fill="#fff" stroke="#6EBDAC" stroke-width="1.5"/>
<path d="M1560.56 161.55 A6.6 6.6 0 0 1 1560.56 174.75 Z" fill="#6EBDAC" stroke="#6EBDAC" stroke-width="1.5"/>
<circle cx="1602.97" cy="177.67" r="6.6" fill="#fff" stroke="#6EBDAC" stroke-width="1.5"/>
<path d="M1602.97 171.07 A6.6 6.6 0 0 1 1602.97 184.27 Z" fill="#6EBDAC" stroke="#6EBDAC" stroke-width="1.5"/>
<circle cx="1645.38" cy="193.53" r="6.6" fill="#fff" stroke="#6EBDAC" stroke-width="1.5"/>
<path d="M1645.38 186.93 A6.6 6.6 0 0 1 1645.38 200.13 Z" fill="#6EBDAC" stroke="#6EBDAC" stroke-width="1.5"/>
<circle cx="1687.78" cy="212.57" r="6.6" fill="#fff" stroke="#6EBDAC" stroke-width="1.5"/>
<path d="M1687.78 205.97 A6.6 6.6 0 0 1 1687.78 219.17 Z" fill="#6EBDAC" stroke="#6EBDAC" stroke-width="1.5"/>
<circle cx="1730.19" cy="231.6" r="6.6" fill="#fff" stroke="#6EBDAC" stroke-width="1.5"/>
<path d="M1730.19 225 A6.6 6.6 0 0 1 1730.19 238.2 Z" fill="#6EBDAC" stroke="#6EBDAC" stroke-width="1.5"/>
<circle cx="1772.59" cy="251.16" r="6.6" fill="#fff" stroke="#6EBDAC" stroke-width="1.5"/>
<path d="M1772.59 244.56 A6.6 6.6 0 0 1 1772.59 257.76 Z" fill="#6EBDAC" stroke="#6EBDAC" stroke-width="1.5"/>
<line x1="1136.51" y1="235" x2="1178.91" y2="237.3" stroke="#368C1C" stroke-width="2.2"/>
<line x1="1178.91" y1="237.3" x2="1221.32" y2="239.9" stroke="#368C1C" stroke-width="2.2"/>
<line x1="1221.32" y1="239.9" x2="1263.72" y2="242.3" stroke="#61B7A3" stroke-width="2.2"/>
<line x1="1263.72" y1="242.3" x2="1306.13" y2="244.9" stroke="#61B7A3" stroke-width="2.2"/>
<line x1="1306.13" y1="244.9" x2="1348.54" y2="247.3" stroke="#61B7A3" stroke-width="2.2"/>
<line x1="1348.54" y1="247.3" x2="1390.94" y2="249.7" stroke="#61B7A3" stroke-width="2.2"/>
<line x1="1390.94" y1="249.7" x2="1433.35" y2="251.7" stroke="#61B7A3" stroke-width="2.2"/>
<line x1="1433.35" y1="251.7" x2="1475.75" y2="254.8" stroke="#61B7A3" stroke-width="2.2"/>
<line x1="1475.75" y1="254.8" x2="1518.16" y2="256.2" stroke="#61B7A3" stroke-width="2.2"/>
<line x1="1518.16" y1="256.2" x2="1560.56" y2="258.2" stroke="#61B7A3" stroke-width="2.2"/>
<line x1="1560.56" y1="258.2" x2="1602.97" y2="277.6" stroke="#61B7A3" stroke-width="2.2"/>
<line x1="1602.97" y1="277.6" x2="1645.38" y2="308.9" stroke="#61B7A3" stroke-width="2.2"/>
<line x1="1645.38" y1="308.9" x2="1687.78" y2="347.5" stroke="#61B7A3" stroke-width="2.2"/>
<line x1="1687.78" y1="347.5" x2="1730.19" y2="389.3" stroke="#61B7A3" stroke-width="2.2"/>
<line x1="1730.19" y1="389.3" x2="1772.59" y2="434.5" stroke="#61B7A3" stroke-width="2.2"/>
<circle cx="1136.51" cy="235" r="7.3" fill="#368C1C"/>
<circle cx="1178.91" cy="237.3" r="7.3" fill="#368C1C"/>
<circle cx="1221.32" cy="239.9" r="7.3" fill="#368C1C"/>
<circle cx="1263.72" cy="242.3" r="7.3" fill="#6EBDAC"/>
<circle cx="1306.13" cy="244.9" r="7.3" fill="#6EBDAC"/>
<circle cx="1348.54" cy="247.3" r="7.3" fill="#6EBDAC"/>
<circle cx="1390.94" cy="249.7" r="7.3" fill="#6EBDAC"/>
<circle cx="1433.35" cy="251.7" r="7.3" fill="#6EBDAC"/>
<circle cx="1475.75" cy="254.8" r="7.3" fill="#6EBDAC"/>
<circle cx="1518.16" cy="256.2" r="7.3" fill="#6EBDAC"/>
<circle cx="1560.56" cy="258.2" r="7.3" fill="#6EBDAC"/>
<circle cx="1602.97" cy="277.6" r="7.3" fill="#6EBDAC"/>
<circle cx="1645.38" cy="308.9" r="7.3" fill="#6EBDAC"/>
<circle cx="1687.78" cy="347.5" r="7.3" fill="#6EBDAC"/>
<circle cx="1730.19" cy="389.3" r="7.3" fill="#6EBDAC"/>
<circle cx="1772.59" cy="434.5" r="7.3" fill="#6EBDAC"/>
<text transform="translate(1136.51 150.05) scale(0.99 1)" font-size="19.5" fill="#318A19" text-anchor="middle" font-weight="bold">28.72</text>
<text transform="translate(1178.91 190.68) scale(0.99 1)" font-size="19.5" fill="#318A19" text-anchor="middle" font-weight="bold">28.71</text>
<text transform="translate(1221.32 151.64) scale(0.99 1)" font-size="19.5" fill="#318A19" text-anchor="middle" font-weight="bold">28.69</text>
<text transform="translate(1263.72 192.79) scale(0.99 1)" font-size="19.5" fill="#61B7A3" text-anchor="middle" font-weight="bold">28.67</text>
<text transform="translate(1306.13 153.22) scale(0.99 1)" font-size="19.5" fill="#61B7A3" text-anchor="middle" font-weight="bold">28.66</text>
<text transform="translate(1348.54 194.38) scale(0.99 1)" font-size="19.5" fill="#61B7A3" text-anchor="middle" font-weight="bold">28.64</text>
<text transform="translate(1390.94 154.81) scale(0.99 1)" font-size="19.5" fill="#61B7A3" text-anchor="middle" font-weight="bold">28.63</text>
<text transform="translate(1433.35 195.97) scale(0.99 1)" font-size="19.5" fill="#61B7A3" text-anchor="middle" font-weight="bold">28.61</text>
<text transform="translate(1475.75 156.39) scale(0.99 1)" font-size="19.5" fill="#61B7A3" text-anchor="middle" font-weight="bold">28.60</text>
<text transform="translate(1518.16 197.02) scale(0.99 1)" font-size="19.5" fill="#61B7A3" text-anchor="middle" font-weight="bold">28.59</text>
<text transform="translate(1560.56 157.45) scale(0.99 1)" font-size="19.5" fill="#61B7A3" text-anchor="middle" font-weight="bold">28.58</text>
<text transform="translate(1602.97 207.07) scale(0.99 1)" font-size="19.5" fill="#61B7A3" text-anchor="middle" font-weight="bold">28.40</text>
<text transform="translate(1645.38 182.83) scale(0.99 1)" font-size="19.5" fill="#61B7A3" text-anchor="middle" font-weight="bold">28.10</text>
<text transform="translate(1687.78 241.97) scale(0.99 1)" font-size="19.5" fill="#61B7A3" text-anchor="middle" font-weight="bold">27.74</text>
<text transform="translate(1730.19 220.9) scale(0.99 1)" font-size="19.5" fill="#61B7A3" text-anchor="middle" font-weight="bold">27.38</text>
<text transform="translate(1772.59 280.56) scale(0.99 1)" font-size="19.5" fill="#61B7A3" text-anchor="middle" font-weight="bold">27.01</text>
<rect x="1094.1" y="40.2" width="720.9" height="581.6" fill="none" stroke="#000" stroke-width="2"/>
<line x1="1094.1" y1="621.8" x2="1094.1" y2="610.8" stroke="#000" stroke-width="2"/>
<line x1="1115.3" y1="621.8" x2="1115.3" y2="616.3" stroke="#000" stroke-width="2"/>
<text x="1094.4" y="653.4" font-size="25" fill="#000" text-anchor="middle">&#8722;1</text>
<line x1="1136.51" y1="621.8" x2="1136.51" y2="610.8" stroke="#000" stroke-width="2"/>
<line x1="1157.71" y1="621.8" x2="1157.71" y2="616.3" stroke="#000" stroke-width="2"/>
<text x="1136.51" y="653.4" font-size="25" fill="#000" text-anchor="middle">0</text>
<line x1="1178.91" y1="621.8" x2="1178.91" y2="610.8" stroke="#000" stroke-width="2"/>
<line x1="1200.11" y1="621.8" x2="1200.11" y2="616.3" stroke="#000" stroke-width="2"/>
<text x="1178.91" y="653.4" font-size="25" fill="#000" text-anchor="middle">1</text>
<line x1="1221.32" y1="621.8" x2="1221.32" y2="610.8" stroke="#000" stroke-width="2"/>
<line x1="1242.52" y1="621.8" x2="1242.52" y2="616.3" stroke="#000" stroke-width="2"/>
<text x="1221.32" y="653.4" font-size="25" fill="#000" text-anchor="middle">2</text>
<line x1="1263.72" y1="621.8" x2="1263.72" y2="610.8" stroke="#000" stroke-width="2"/>
<line x1="1284.93" y1="621.8" x2="1284.93" y2="616.3" stroke="#000" stroke-width="2"/>
<text x="1263.72" y="653.4" font-size="25" fill="#000" text-anchor="middle">3</text>
<line x1="1306.13" y1="621.8" x2="1306.13" y2="610.8" stroke="#000" stroke-width="2"/>
<line x1="1327.33" y1="621.8" x2="1327.33" y2="616.3" stroke="#000" stroke-width="2"/>
<text x="1306.13" y="653.4" font-size="25" fill="#000" text-anchor="middle">4</text>
<line x1="1348.54" y1="621.8" x2="1348.54" y2="610.8" stroke="#000" stroke-width="2"/>
<line x1="1369.74" y1="621.8" x2="1369.74" y2="616.3" stroke="#000" stroke-width="2"/>
<text x="1348.54" y="653.4" font-size="25" fill="#000" text-anchor="middle">5</text>
<line x1="1390.94" y1="621.8" x2="1390.94" y2="610.8" stroke="#000" stroke-width="2"/>
<line x1="1412.14" y1="621.8" x2="1412.14" y2="616.3" stroke="#000" stroke-width="2"/>
<text x="1390.94" y="653.4" font-size="25" fill="#000" text-anchor="middle">6</text>
<line x1="1433.35" y1="621.8" x2="1433.35" y2="610.8" stroke="#000" stroke-width="2"/>
<line x1="1454.55" y1="621.8" x2="1454.55" y2="616.3" stroke="#000" stroke-width="2"/>
<text x="1433.35" y="653.4" font-size="25" fill="#000" text-anchor="middle">7</text>
<line x1="1475.75" y1="621.8" x2="1475.75" y2="610.8" stroke="#000" stroke-width="2"/>
<line x1="1496.96" y1="621.8" x2="1496.96" y2="616.3" stroke="#000" stroke-width="2"/>
<text x="1475.75" y="653.4" font-size="25" fill="#000" text-anchor="middle">8</text>
<line x1="1518.16" y1="621.8" x2="1518.16" y2="610.8" stroke="#000" stroke-width="2"/>
<line x1="1539.36" y1="621.8" x2="1539.36" y2="616.3" stroke="#000" stroke-width="2"/>
<text x="1518.16" y="653.4" font-size="25" fill="#000" text-anchor="middle">9</text>
<line x1="1560.56" y1="621.8" x2="1560.56" y2="610.8" stroke="#000" stroke-width="2"/>
<line x1="1581.77" y1="621.8" x2="1581.77" y2="616.3" stroke="#000" stroke-width="2"/>
<text x="1560.56" y="653.4" font-size="25" fill="#000" text-anchor="middle">10</text>
<line x1="1602.97" y1="621.8" x2="1602.97" y2="610.8" stroke="#000" stroke-width="2"/>
<line x1="1624.17" y1="621.8" x2="1624.17" y2="616.3" stroke="#000" stroke-width="2"/>
<text x="1602.97" y="653.4" font-size="25" fill="#000" text-anchor="middle">11</text>
<line x1="1645.38" y1="621.8" x2="1645.38" y2="610.8" stroke="#000" stroke-width="2"/>
<line x1="1666.58" y1="621.8" x2="1666.58" y2="616.3" stroke="#000" stroke-width="2"/>
<text x="1645.38" y="653.4" font-size="25" fill="#000" text-anchor="middle">12</text>
<line x1="1687.78" y1="621.8" x2="1687.78" y2="610.8" stroke="#000" stroke-width="2"/>
<line x1="1708.99" y1="621.8" x2="1708.99" y2="616.3" stroke="#000" stroke-width="2"/>
<text x="1687.78" y="653.4" font-size="25" fill="#000" text-anchor="middle">13</text>
<line x1="1730.19" y1="621.8" x2="1730.19" y2="610.8" stroke="#000" stroke-width="2"/>
<line x1="1751.39" y1="621.8" x2="1751.39" y2="616.3" stroke="#000" stroke-width="2"/>
<text x="1730.19" y="653.4" font-size="25" fill="#000" text-anchor="middle">14</text>
<line x1="1772.59" y1="621.8" x2="1772.59" y2="610.8" stroke="#000" stroke-width="2"/>
<line x1="1793.8" y1="621.8" x2="1793.8" y2="616.3" stroke="#000" stroke-width="2"/>
<text x="1772.59" y="653.4" font-size="25" fill="#000" text-anchor="middle">15</text>
<line x1="1815" y1="621.8" x2="1815" y2="610.8" stroke="#000" stroke-width="2"/>
<text x="1815" y="653.4" font-size="25" fill="#000" text-anchor="middle">16</text>
<line x1="1094.1" y1="621.8" x2="1105.1" y2="621.8" stroke="#000" stroke-width="2"/>
<line x1="1094.1" y1="589.49" x2="1099.6" y2="589.49" stroke="#000" stroke-width="2"/>
<text x="1081.1" y="628.8" font-size="25" fill="#000" text-anchor="end">1</text>
<line x1="1094.1" y1="557.18" x2="1105.1" y2="557.18" stroke="#000" stroke-width="2"/>
<line x1="1094.1" y1="524.87" x2="1099.6" y2="524.87" stroke="#000" stroke-width="2"/>
<text x="1081.1" y="564.18" font-size="25" fill="#000" text-anchor="end">2</text>
<line x1="1094.1" y1="492.56" x2="1105.1" y2="492.56" stroke="#000" stroke-width="2"/>
<line x1="1094.1" y1="460.24" x2="1099.6" y2="460.24" stroke="#000" stroke-width="2"/>
<text x="1081.1" y="499.56" font-size="25" fill="#000" text-anchor="end">3</text>
<line x1="1094.1" y1="427.93" x2="1105.1" y2="427.93" stroke="#000" stroke-width="2"/>
<line x1="1094.1" y1="395.62" x2="1099.6" y2="395.62" stroke="#000" stroke-width="2"/>
<text x="1081.1" y="434.93" font-size="25" fill="#000" text-anchor="end">4</text>
<line x1="1094.1" y1="363.31" x2="1105.1" y2="363.31" stroke="#000" stroke-width="2"/>
<line x1="1094.1" y1="331" x2="1099.6" y2="331" stroke="#000" stroke-width="2"/>
<text x="1081.1" y="370.31" font-size="25" fill="#000" text-anchor="end">5</text>
<line x1="1094.1" y1="298.69" x2="1105.1" y2="298.69" stroke="#000" stroke-width="2"/>
<line x1="1094.1" y1="266.38" x2="1099.6" y2="266.38" stroke="#000" stroke-width="2"/>
<text x="1081.1" y="305.69" font-size="25" fill="#000" text-anchor="end">6</text>
<line x1="1094.1" y1="234.07" x2="1105.1" y2="234.07" stroke="#000" stroke-width="2"/>
<line x1="1094.1" y1="201.76" x2="1099.6" y2="201.76" stroke="#000" stroke-width="2"/>
<text x="1081.1" y="241.07" font-size="25" fill="#000" text-anchor="end">7</text>
<line x1="1094.1" y1="169.44" x2="1105.1" y2="169.44" stroke="#000" stroke-width="2"/>
<line x1="1094.1" y1="137.13" x2="1099.6" y2="137.13" stroke="#000" stroke-width="2"/>
<text x="1081.1" y="176.44" font-size="25" fill="#000" text-anchor="end">8</text>
<line x1="1094.1" y1="104.82" x2="1105.1" y2="104.82" stroke="#000" stroke-width="2"/>
<line x1="1094.1" y1="72.51" x2="1099.6" y2="72.51" stroke="#000" stroke-width="2"/>
<text x="1081.1" y="111.82" font-size="25" fill="#000" text-anchor="end">9</text>
<line x1="1094.1" y1="40.2" x2="1105.1" y2="40.2" stroke="#000" stroke-width="2"/>
<text x="1081.1" y="47.2" font-size="25" fill="#000" text-anchor="end">10</text>
<line x1="1815" y1="621.8" x2="1804" y2="621.8" stroke="#000" stroke-width="2"/>
<line x1="1815" y1="597.57" x2="1809.5" y2="597.57" stroke="#000" stroke-width="2"/>
<text x="1827.8" y="629" font-size="25" fill="#000">4</text>
<line x1="1815" y1="573.33" x2="1804" y2="573.33" stroke="#000" stroke-width="2"/>
<line x1="1815" y1="549.1" x2="1809.5" y2="549.1" stroke="#000" stroke-width="2"/>
<text x="1827.8" y="580.53" font-size="25" fill="#000">5</text>
<line x1="1815" y1="524.87" x2="1804" y2="524.87" stroke="#000" stroke-width="2"/>
<line x1="1815" y1="500.63" x2="1809.5" y2="500.63" stroke="#000" stroke-width="2"/>
<text x="1827.8" y="532.07" font-size="25" fill="#000">6</text>
<line x1="1815" y1="476.4" x2="1804" y2="476.4" stroke="#000" stroke-width="2"/>
<line x1="1815" y1="452.17" x2="1809.5" y2="452.17" stroke="#000" stroke-width="2"/>
<text x="1827.8" y="483.6" font-size="25" fill="#000">7</text>
<line x1="1815" y1="427.93" x2="1804" y2="427.93" stroke="#000" stroke-width="2"/>
<line x1="1815" y1="403.7" x2="1809.5" y2="403.7" stroke="#000" stroke-width="2"/>
<text x="1827.8" y="435.13" font-size="25" fill="#000">8</text>
<line x1="1815" y1="379.47" x2="1804" y2="379.47" stroke="#000" stroke-width="2"/>
<line x1="1815" y1="355.23" x2="1809.5" y2="355.23" stroke="#000" stroke-width="2"/>
<text x="1827.8" y="386.67" font-size="25" fill="#000">9</text>
<line x1="1815" y1="331" x2="1804" y2="331" stroke="#000" stroke-width="2"/>
<line x1="1815" y1="306.77" x2="1809.5" y2="306.77" stroke="#000" stroke-width="2"/>
<text x="1827.8" y="338.2" font-size="25" fill="#000">10</text>
<line x1="1815" y1="282.53" x2="1804" y2="282.53" stroke="#000" stroke-width="2"/>
<line x1="1815" y1="258.3" x2="1809.5" y2="258.3" stroke="#000" stroke-width="2"/>
<text x="1827.8" y="289.73" font-size="25" fill="#000">11</text>
<line x1="1815" y1="234.07" x2="1804" y2="234.07" stroke="#000" stroke-width="2"/>
<line x1="1815" y1="209.83" x2="1809.5" y2="209.83" stroke="#000" stroke-width="2"/>
<text x="1827.8" y="241.27" font-size="25" fill="#000">12</text>
<line x1="1815" y1="185.6" x2="1804" y2="185.6" stroke="#000" stroke-width="2"/>
<line x1="1815" y1="161.37" x2="1809.5" y2="161.37" stroke="#000" stroke-width="2"/>
<text x="1827.8" y="192.8" font-size="25" fill="#000">13</text>
<line x1="1815" y1="137.13" x2="1804" y2="137.13" stroke="#000" stroke-width="2"/>
<line x1="1815" y1="112.9" x2="1809.5" y2="112.9" stroke="#000" stroke-width="2"/>
<text x="1827.8" y="144.33" font-size="25" fill="#000">14</text>
<line x1="1815" y1="88.67" x2="1804" y2="88.67" stroke="#000" stroke-width="2"/>
<line x1="1815" y1="64.43" x2="1809.5" y2="64.43" stroke="#000" stroke-width="2"/>
<text x="1827.8" y="95.87" font-size="25" fill="#000">15</text>
<line x1="1815" y1="40.2" x2="1804" y2="40.2" stroke="#000" stroke-width="2"/>
<text x="1827.8" y="47.4" font-size="25" fill="#000">16</text>
<line x1="1915.2" y1="39.2" x2="1915.2" y2="622.8" stroke="#61B7A3" stroke-width="2"/>
<line x1="1915.2" y1="621.8" x2="1904.2" y2="621.8" stroke="#61B7A3" stroke-width="2"/>
<line x1="1915.2" y1="595.36" x2="1909.7" y2="595.36" stroke="#61B7A3" stroke-width="2"/>
<text x="1927.7" y="629" font-size="25" fill="#61B7A3">20</text>
<line x1="1915.2" y1="568.93" x2="1904.2" y2="568.93" stroke="#61B7A3" stroke-width="2"/>
<line x1="1915.2" y1="542.49" x2="1909.7" y2="542.49" stroke="#61B7A3" stroke-width="2"/>
<text x="1927.7" y="576.13" font-size="25" fill="#61B7A3">21</text>
<line x1="1915.2" y1="516.05" x2="1904.2" y2="516.05" stroke="#61B7A3" stroke-width="2"/>
<line x1="1915.2" y1="489.62" x2="1909.7" y2="489.62" stroke="#61B7A3" stroke-width="2"/>
<text x="1927.7" y="523.25" font-size="25" fill="#61B7A3">22</text>
<line x1="1915.2" y1="463.18" x2="1904.2" y2="463.18" stroke="#61B7A3" stroke-width="2"/>
<line x1="1915.2" y1="436.75" x2="1909.7" y2="436.75" stroke="#61B7A3" stroke-width="2"/>
<text x="1927.7" y="470.38" font-size="25" fill="#61B7A3">23</text>
<line x1="1915.2" y1="410.31" x2="1904.2" y2="410.31" stroke="#61B7A3" stroke-width="2"/>
<line x1="1915.2" y1="383.87" x2="1909.7" y2="383.87" stroke="#61B7A3" stroke-width="2"/>
<text x="1927.7" y="417.51" font-size="25" fill="#61B7A3">24</text>
<line x1="1915.2" y1="357.44" x2="1904.2" y2="357.44" stroke="#61B7A3" stroke-width="2"/>
<line x1="1915.2" y1="331" x2="1909.7" y2="331" stroke="#61B7A3" stroke-width="2"/>
<text x="1927.7" y="364.64" font-size="25" fill="#61B7A3">25</text>
<line x1="1915.2" y1="304.56" x2="1904.2" y2="304.56" stroke="#61B7A3" stroke-width="2"/>
<line x1="1915.2" y1="278.13" x2="1909.7" y2="278.13" stroke="#61B7A3" stroke-width="2"/>
<text x="1927.7" y="311.76" font-size="25" fill="#61B7A3">26</text>
<line x1="1915.2" y1="251.69" x2="1904.2" y2="251.69" stroke="#61B7A3" stroke-width="2"/>
<line x1="1915.2" y1="225.25" x2="1909.7" y2="225.25" stroke="#61B7A3" stroke-width="2"/>
<text x="1927.7" y="258.89" font-size="25" fill="#61B7A3">27</text>
<line x1="1915.2" y1="198.82" x2="1904.2" y2="198.82" stroke="#61B7A3" stroke-width="2"/>
<line x1="1915.2" y1="172.38" x2="1909.7" y2="172.38" stroke="#61B7A3" stroke-width="2"/>
<text x="1927.7" y="206.02" font-size="25" fill="#61B7A3">28</text>
<line x1="1915.2" y1="145.95" x2="1904.2" y2="145.95" stroke="#61B7A3" stroke-width="2"/>
<line x1="1915.2" y1="119.51" x2="1909.7" y2="119.51" stroke="#61B7A3" stroke-width="2"/>
<text x="1927.7" y="153.15" font-size="25" fill="#61B7A3">29</text>
<line x1="1915.2" y1="93.07" x2="1904.2" y2="93.07" stroke="#61B7A3" stroke-width="2"/>
<line x1="1915.2" y1="66.64" x2="1909.7" y2="66.64" stroke="#61B7A3" stroke-width="2"/>
<text x="1927.7" y="100.27" font-size="25" fill="#61B7A3">30</text>
<line x1="1915.2" y1="40.2" x2="1904.2" y2="40.2" stroke="#61B7A3" stroke-width="2"/>
<text x="1927.7" y="47.4" font-size="25" fill="#61B7A3">31</text>
<text transform="translate(1035.8,331) rotate(-90)" text-anchor="middle" font-size="30" fill="#000"><tspan font-style="italic">D</tspan><tspan font-style="italic" font-size="19.6" dy="8">nt</tspan><tspan dy="-8"> (mm)</tspan></text>
<text transform="translate(1887.6,331) rotate(-90)" text-anchor="middle" font-size="30" fill="#000"><tspan font-style="italic">D</tspan><tspan font-style="italic" font-size="19.6" dy="8">no</tspan><tspan dy="-8"> (mm)</tspan></text>
<text transform="translate(1989.6,331) rotate(-90)" text-anchor="middle" font-size="30" fill="#61B7A3"><tspan font-style="italic">D</tspan><tspan font-style="italic" font-size="19.6" dy="8">m</tspan><tspan dy="-8"> (mm)</tspan></text>
<text x="1406.1" y="688.6" font-size="32" font-family="Liberation Serif">&#916;</text>
<text transform="translate(1426.35 688.6) scale(0.87 1)" font-size="34" font-style="italic">t</text>
<text x="1436.5" y="696.9" font-size="21.6" font-style="italic">superh</text>
<rect x="1491" y="53.4" width="47.6" height="23.1" fill="#6EBDAC" stroke="#000" stroke-width="2.2"/>
<line x1="1614.9" y1="63.8" x2="1665.6" y2="63.8" stroke="#6EBDAC" stroke-width="2.2"/>
<circle cx="1640.1" cy="63.8" r="7.3" fill="#6EBDAC"/>
<circle cx="1745" cy="63.8" r="6.6" fill="#fff" stroke="#6EBDAC" stroke-width="1.5"/>
<path d="M1745 57.2 A6.6 6.6 0 0 1 1745 70.4 Z" fill="#6EBDAC" stroke="#6EBDAC" stroke-width="1.5"/>
<text x="1545" y="72.1" font-size="22.5" font-style="italic">D</text>
<text x="1561.4" y="78.3" font-size="16" font-style="italic" textLength="12.7" lengthAdjust="spacingAndGlyphs">nt</text>
<text x="1670.5" y="72.1" font-size="22.5" font-style="italic">D</text>
<text x="1687" y="78.3" font-size="16" font-style="italic" textLength="16.2" lengthAdjust="spacingAndGlyphs">no</text>
<text x="1769.7" y="72.1" font-size="22.5" font-style="italic">D</text>
<text x="1785.7" y="78.3" font-size="16" font-style="italic" textLength="12.1" lengthAdjust="spacingAndGlyphs">m</text>
<text x="1109" y="74.4" font-size="24.5" fill="#000" font-weight="bold">(R1224ydz/R1233zd)</text>
<text x="1284.5" y="104.5" font-size="22" font-style="italic">t</text>
<text x="1291.1" y="110.8" font-size="15.5" font-style="italic" textLength="23.2" lengthAdjust="spacingAndGlyphs">eva</text>
<text x="1314.3" y="104.5" font-size="22">=50</text>
<text x="1351.6" y="104.5" font-size="16.5">℃</text>
<text x="1373.5" y="103.2" font-size="17">，</text>
<text x="1395.7" y="104.5" font-size="22" font-style="italic">t</text>
<text x="1402.7" y="110.8" font-size="15.5" font-style="italic" textLength="22.5" lengthAdjust="spacingAndGlyphs">con</text>
<text x="1425.7" y="104.5" font-size="22">=125</text>
<text x="1474.7" y="104.5" font-size="16.5">℃</text>
<text x="1497.2" y="103.2" font-size="17">，</text>
<text x="1519.8" y="104.5" font-size="22" font-style="italic">Q</text>
<text x="1536.6" y="110.8" font-size="15.5" font-style="italic" textLength="22.9" lengthAdjust="spacingAndGlyphs">con</text>
<text x="1559.6" y="104.5" font-size="22">=100kW</text>
<text x="1640.8" y="103.2" font-size="17">，</text>
<text x="1662.7" y="104.5" font-size="22" font-style="italic">Z</text>
<text x="1676.2" y="104.5" font-size="22">=0.5</text>
<text x="1720.2" y="103.2" font-size="17">，</text>
<text x="1742.9" y="104.5" font-size="22" font-style="italic" font-family="Liberation Serif">&#949;</text>
<text x="1749.9" y="104.5" font-size="22">=0.5</text>
<text x="1016" y="21.8" font-size="28" fill="#000">(b)</text>
</svg></body></html>
